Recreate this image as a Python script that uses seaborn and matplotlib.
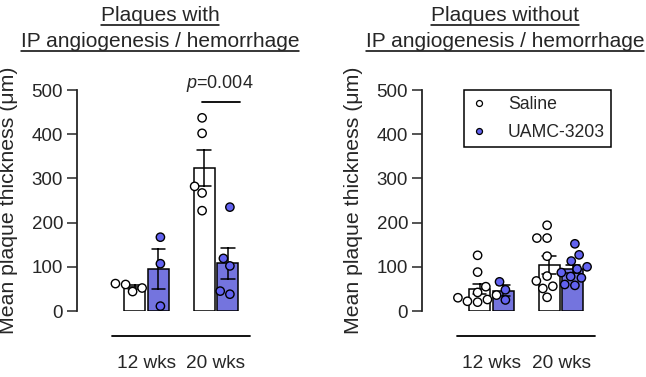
import numpy as np
import pandas as pd
import matplotlib
matplotlib.use('Agg')
import matplotlib.pyplot as plt
import seaborn as sns
from matplotlib.lines import Line2D

sns.set_style('ticks')
plt.rcParams['font.family'] = ['Liberation Sans', 'DejaVu Sans']
plt.rcParams['mathtext.fontset'] = 'custom'
plt.rcParams['mathtext.rm'] = 'Liberation Sans'
plt.rcParams['mathtext.it'] = 'Liberation Sans:italic'

ages = ['12 wks', '20 wks']
groups = ['Saline', 'UAMC-3203']
colors = ['white', '#6262f0']

# plaques with IP angiogenesis / hemorrhage (um)
with_saline_12 = [62, 44, 60, 52]
with_uamc_12 = [167, 107, 11]
with_saline_20 = [437, 402, 282, 267, 227]
with_uamc_20 = [235, 119, 102, 38, 45]

# plaques without IP angiogenesis / hemorrhage (um)
without_saline_12 = [126, 88, 55, 42, 36, 30, 26, 20, 22]
without_uamc_12 = [66, 48, 25]
without_saline_20 = [194, 165, 165, 124, 68, 79, 51, 56, 31]
without_uamc_20 = [152, 127, 113, 100, 95, 87, 78, 75, 60, 58]

p_label = '$p$=0.004'


def make_df(s12, u12, s20, u20):
    rows = []
    for age, grp, vals in [('12 wks', 'Saline', s12), ('12 wks', 'UAMC-3203', u12),
                           ('20 wks', 'Saline', s20), ('20 wks', 'UAMC-3203', u20)]:
        for v in vals:
            rows.append({'age': age, 'group': grp, 'value': v})
    return pd.DataFrame(rows)


df_with = make_df(with_saline_12, with_uamc_12, with_saline_20, with_uamc_20)
df_without = make_df(without_saline_12, without_uamc_12, without_saline_20, without_uamc_20)

W, H = 646, 377
fig = plt.figure(figsize=(W / 100, H / 100), dpi=100)
ax1 = fig.add_axes([77 / W, 66 / H, 180.7 / W, 221 / H])
ax2 = fig.add_axes([422 / W, 66 / H, 180.7 / W, 221 / H])


def draw_panel(ax, df):
    sns.barplot(data=df, x='age', y='value', hue='group', order=ages, hue_order=groups,
                palette=colors, errorbar='se', capsize=0.4, width=0.69, gap=0.125,
                edgecolor='black', linewidth=1.1,
                err_kws={'color': 'black', 'linewidth': 1.1}, legend=False, ax=ax)
    sns.swarmplot(data=df, x='age', y='value', hue='group', order=ages, hue_order=groups,
                  dodge=True, palette=colors, size=6, edgecolor='black', linewidth=1,
                  legend=False, zorder=3, ax=ax)
    ax.set_xlim(-1, 1.6)
    ax.set_ylim(0, 500)
    ax.set_yticks(range(0, 501, 100))
    ax.set_xlabel('')
    ax.set_ylabel('Mean plaque thickness (μm)', fontsize=15.3)
    ax.yaxis.set_label_coords(-0.327, 0.5)
    sns.despine(ax=ax, bottom=True)
    ax.spines['left'].set_linewidth(1.3)
    ax.tick_params(axis='y', labelsize=13.5, length=7, width=1.1, pad=3)
    ax.tick_params(axis='x', labelsize=13.7, length=0, pad=31.5)
    ax.plot([-0.49, 1.49], [-0.115, -0.115], transform=ax.get_xaxis_transform(),
            color='black', lw=1.3, clip_on=False)


draw_panel(ax1, df_with)
draw_panel(ax2, df_without)

# significance
ax1.plot([0.8, 1.34], [473.5, 473.5], color='black', lw=1.3, clip_on=False)
ax1.text(1.06, 504, p_label, ha='center', va='baseline', fontsize=13, clip_on=False)

# legend
handles = [Line2D([], [], ls='none', marker='o', markersize=4.3, markerfacecolor=c,
                  markeredgecolor='black', markeredgewidth=0.9) for c in colors]
leg = ax2.legend(handles, groups, loc='upper left', bbox_to_anchor=(0.232, 1.0),
                 frameon=True, fancybox=False, edgecolor='black', framealpha=1,
                 fontsize=12.7, borderpad=0.35, handlelength=1.0, handletextpad=1.15,
                 labelspacing=0.6, borderaxespad=0)
leg.get_frame().set_linewidth(1.1)

# underlined titles
titles = [(160, ['Plaques with', 'IP angiogenesis / hemorrhage']),
          (505, ['Plaques without', 'IP angiogenesis / hemorrhage'])]
baselines = [20.7, 46.7]
texts = []
for cx, lines in titles:
    for line, b in zip(lines, baselines):
        t = fig.text(cx / W, 1 - b / H, line, ha='center', va='baseline', fontsize=15)
        texts.append((t, b))

fig.canvas.draw()
renderer = fig.canvas.get_renderer()
for t, b in texts:
    bb = t.get_window_extent(renderer)
    y = 1 - (b + 4.6) / H
    fig.add_artist(Line2D([bb.x0 / W, bb.x1 / W], [y, y], transform=fig.transFigure,
                          color='black', lw=1.1))

fig.savefig('out.png', dpi=100)
